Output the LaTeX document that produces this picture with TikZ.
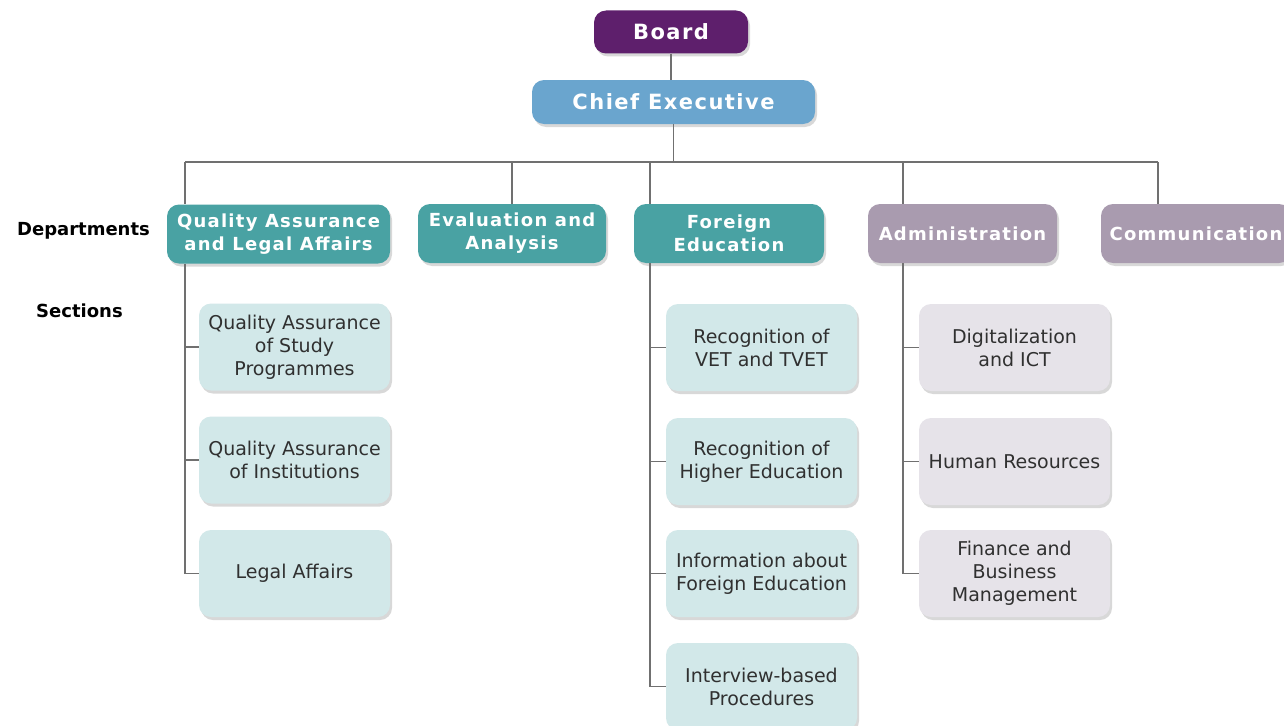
\documentclass[tikz,border=0pt]{standalone}
\usepackage{fontspec}
\setmainfont{DejaVu Sans}
\newfontfamily\deptfont[LetterSpace=7]{DejaVu Sans}
\usetikzlibrary{shadows}
\definecolor{boardc}{HTML}{5E1F6C}
\definecolor{chiefc}{HTML}{6AA5CE}
\definecolor{tealc}{HTML}{49A2A3}
\definecolor{tealsec}{HTML}{D2E8E9}
\definecolor{mauvec}{HTML}{A99BAF}
\definecolor{mauvesec}{HTML}{E6E3E9}
\definecolor{linec}{HTML}{707070}
\definecolor{textc}{HTML}{303030}
\tikzset{
  boxbase/.style={rectangle, rounded corners=12pt, inner sep=0pt, align=center,
    drop shadow={opacity=0.3, shadow xshift=2pt, shadow yshift=-3pt}},
  topbox/.style={boxbase, text=white, font=\deptfont\bfseries\fontsize{21}{26}\selectfont},
  deptbox/.style={boxbase, text=white, minimum height=59pt, font=\deptfont\bfseries\fontsize{18}{23}\selectfont},
  secbox/.style={boxbase, text=textc, minimum width=191pt, minimum height=87pt, font=\fontsize{19}{23}\selectfont},
  tsec/.style={secbox, fill=tealsec},
  msec/.style={secbox, fill=mauvesec},
  rowlabel/.style={inner sep=0pt, text=black, font=\bfseries\fontsize{18}{22}\selectfont},
  conn/.style={draw=linec, line width=1.6pt}
}
\begin{document}
\begin{tikzpicture}[x=1pt,y=-1pt]
\useasboundingbox[fill=white] (0,0) rectangle (1284,725);

% top
\node[topbox, fill=boardc, minimum width=154pt, minimum height=43pt] (board) at (671,32) {Board};
\node[topbox, fill=chiefc, minimum width=283pt, minimum height=44pt] (chief) at (673.5,102) {Chief Executive};

% departments
\node[deptbox, fill=tealc, minimum width=223pt] (qa) at (278.5,234) {Quality Assurance\\and Legal Affairs};
\node[deptbox, fill=tealc, minimum width=188pt] (eval) at (512,233.5) {Evaluation and\\Analysis};
\node[deptbox, fill=tealc, minimum width=190pt] (fe) at (729,233.5) {Foreign\\Education};
\node[deptbox, fill=mauvec, minimum width=189pt] (adm) at (962.5,233.5) {Administration};
\node[deptbox, fill=mauvec, minimum width=190pt] (comm) at (1196,233.5) {Communication};

% row labels
\node[rowlabel] (deplab) at (83.5,231) {Departments};
\node[rowlabel] (seclab) at (79.5,311) {Sections};

% sections
\node[tsec] (qasp) at (294.5,347) {Quality Assurance\\of Study\\Programmes};
\node[tsec] (qai) at (294.5,460) {Quality Assurance\\of Institutions};
\node[tsec] (legal) at (294.5,573.5) {Legal Affairs};

\node[tsec] (vet) at (761.5,347.5) {Recognition of\\VET and TVET};
\node[tsec] (he) at (761.5,461.5) {Recognition of\\Higher Education};
\node[tsec] (info) at (761.5,573.5) {Information about\\Foreign Education};
\node[tsec] (intv) at (761.5,686.5) {Interview-based\\Procedures};

\node[msec] (dig) at (1014.5,347.5) {Digitalization\\and ICT};
\node[msec] (hr) at (1014.5,461.5) {Human Resources};
\node[msec] (fin) at (1014.5,573.5) {Finance and\\Business\\Management};

% bus coordinates
\coordinate (b1) at (185,162);
\coordinate (b2) at (512,162);
\coordinate (b3) at (650,162);
\coordinate (b4) at (903,162);
\coordinate (b5) at (1158,162);

\draw[conn] (board.south) -- (board.south |- chief.north);
\draw[conn] (chief.south) -- (chief.south |- b1);
\draw[conn] (b1) -- (b5);
\draw[conn] (b1) -- (qa.north -| b1);
\draw[conn] (b2) -- (eval.north -| b2);
\draw[conn] (b3) -- (fe.north -| b3);
\draw[conn] (b4) -- (adm.north -| b4);
\draw[conn] (b5) -- (comm.north -| b5);

% trunks
\draw[conn] (qa.south -| b1) |- (legal.west);
\draw[conn] (qasp.west -| b1) -- (qasp.west);
\draw[conn] (qai.west -| b1) -- (qai.west);

\draw[conn] (fe.south -| b3) |- (intv.west);
\draw[conn] (vet.west -| b3) -- (vet.west);
\draw[conn] (he.west -| b3) -- (he.west);
\draw[conn] (info.west -| b3) -- (info.west);

\draw[conn] (adm.south -| b4) |- (fin.west);
\draw[conn] (dig.west -| b4) -- (dig.west);
\draw[conn] (hr.west -| b4) -- (hr.west);
\end{tikzpicture}
\end{document}
